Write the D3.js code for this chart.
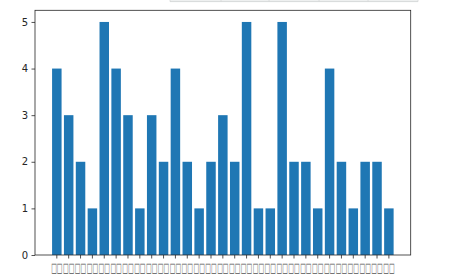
<!DOCTYPE html>
<html>
<head>
<meta charset="utf-8">
<script src="https://cdn.jsdelivr.net/npm/d3@7"></script>
<style>
  html, body { margin: 0; padding: 0; background: #fff; }
  svg { display: block; }
</style>
</head>
<body>
<script>
// Data (x labels render as missing-glyph boxes there)
const categories = ["□□","□□","□□","□□","□□","□□","□□","□□","□□","□□","□□","□□","□□","□□","□□","□□","□□","□□","□□","□□","□□","□□","□□","□□","□□","□□","□□","□□","□□"];
const values = [4,3,2,1,5,4,3,1,3,2,4,2,1,2,3,2,5,1,1,5,2,2,1,4,2,1,2,2,1];
const yTicks = [0,1,2,3,4,5];

const W = 453, H = 276;
const mLeft = 35, mRight = 410.7, mTop = 10.3, mBottom = 255;

const svg = d3.select("body").append("svg").attr("width", W).attr("height", H);

// UI strip at top (partial element from the source page)
const strip = svg.append("g");
strip.append("rect").attr("x", 170).attr("y", 0).attr("width", 248).attr("height", 1.5).attr("fill", "#eef0f0");
strip.append("line").attr("x1", 170).attr("x2", 418).attr("y1", 1.6).attr("y2", 1.6).attr("stroke", "#cdd1d1").attr("stroke-width", 0.8);
[170, 221, 269, 319, 368, 418].forEach(xx => {
  strip.append("line").attr("x1", xx).attr("x2", xx).attr("y1", 0).attr("y2", 1.6).attr("stroke", "#d5d8d8").attr("stroke-width", 0.8);
});

const x = d3.scaleBand().domain(d3.range(values.length)).range([mLeft, mRight]).paddingInner(0.2).paddingOuter(1.44);
const y = d3.scaleLinear().domain([0, 5.25]).range([mBottom, mTop]);

svg.append("g").selectAll("rect").data(values).join("rect")
  .attr("x", (d, i) => x(i))
  .attr("y", d => y(d))
  .attr("width", x.bandwidth())
  .attr("height", d => y(0) - y(d))
  .attr("fill", "#1f77b4");

// Y axis
const yAxis = svg.append("g").attr("transform", `translate(${mLeft},0)`)
  .call(d3.axisLeft(y).tickValues(yTicks).tickFormat(d3.format("d")).tickSize(3.5).tickPadding(3.5));
yAxis.select(".domain").remove();
yAxis.selectAll("line").attr("stroke", "#262626").attr("stroke-width", 0.8);
yAxis.selectAll("text").attr("font-family", "DejaVu Sans").attr("font-size", 10).attr("fill", "#262626");

// X axis
const xAxis = svg.append("g").attr("transform", `translate(0,${mBottom})`)
  .call(d3.axisBottom(x).tickFormat(i => categories[i]).tickSize(3.5).tickPadding(4.5));
xAxis.select(".domain").remove();
xAxis.selectAll("line").attr("stroke", "#262626").attr("stroke-width", 0.8);
xAxis.selectAll("text")
  .attr("font-family", "DejaVu Sans").attr("font-size", 13).attr("fill", "#555")
  .attr("textLength", 11.4).attr("lengthAdjust", "spacingAndGlyphs");

// Frame
svg.append("rect").attr("x", mLeft).attr("y", mTop).attr("width", mRight - mLeft).attr("height", mBottom - mTop)
  .attr("fill", "none").attr("stroke", "#262626").attr("stroke-width", 0.8);
</script>
</body>
</html>
